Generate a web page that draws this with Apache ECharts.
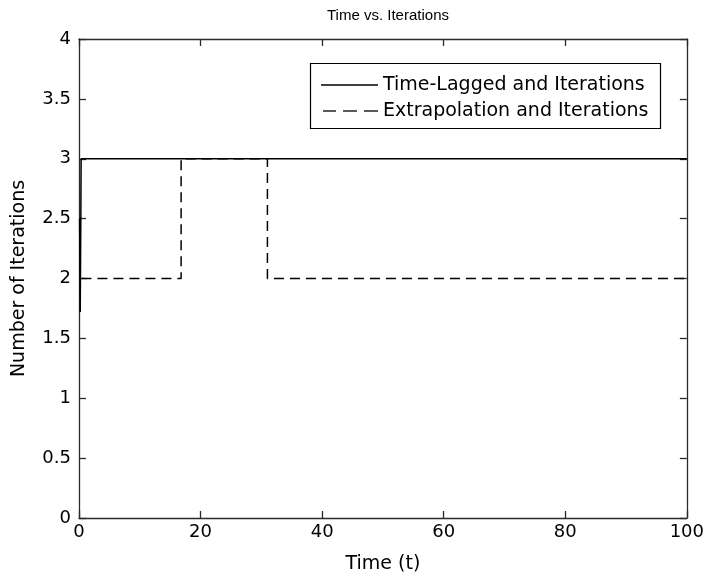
<!DOCTYPE html>
<html>
<head>
<meta charset="utf-8">
<script src="https://cdn.jsdelivr.net/npm/echarts@6/dist/echarts.min.js"></script>
<style>
html,body{margin:0;padding:0;background:#fff;}
#chart{width:707px;height:579px;}
</style>
</head>
<body>
<div id="chart"></div>
<script>
var chartTitle = 'Time vs. Iterations';
var xAxisName = 'Time (t)';
var yAxisName = 'Number of Iterations';
var seriesNames = ['Time-Lagged and Iterations', 'Extrapolation and Iterations'];

var timeLaggedT = [0.1, 0.2, 0.3, 0.35, 100];
var timeLaggedIter = [2.5, 1.72, 2.5, 3, 3];

var extrapT = [0.4, 16.8, 16.8, 31, 31, 100];
var extrapIter = [2, 2, 3, 3, 2, 2];

function pairs(xs, ys) { return xs.map(function (x, i) { return [x, ys[i]]; }); }

var FONT = 'DejaVu Sans';
var AX = '#2a2a2a';

var chart = echarts.init(document.getElementById('chart'));
var axisCommon = {
  type: 'value',
  axisLine: { show: true, onZero: false, lineStyle: { color: AX, width: 1.3 } },
  axisTick: { show: true, inside: true, length: 7, lineStyle: { color: AX, width: 1.3 } },
  splitLine: { show: false }
};
chart.setOption({
  animation: false,
  backgroundColor: '#fff',
  title: {
    text: chartTitle, left: 383, top: 3, textAlign: 'center',
    textStyle: { fontFamily: 'Liberation Sans', fontSize: 15, fontWeight: 'normal', color: '#000' }
  },
  grid: { left: 79, right: 20, top: 39, bottom: 60, containLabel: false },
  xAxis: [
    Object.assign({}, axisCommon, {
      position: 'bottom', min: 0, max: 100, interval: 20,
      name: xAxisName, nameLocation: 'middle', nameGap: 37,
      nameTextStyle: { fontFamily: FONT, fontSize: 19, color: '#000' },
      axisLabel: { fontFamily: FONT, fontSize: 18, color: '#000', margin: 5 }
    }),
    Object.assign({}, axisCommon, {
      position: 'top', min: 0, max: 100, interval: 20,
      axisLabel: { show: false }
    })
  ],
  yAxis: [
    Object.assign({}, axisCommon, {
      position: 'left', min: 0, max: 4, interval: 0.5,
      name: yAxisName, nameLocation: 'middle', nameGap: 50, nameRotate: 90,
      nameTextStyle: { fontFamily: FONT, fontSize: 19, color: '#000' },
      axisLabel: { fontFamily: FONT, fontSize: 18, color: '#000', margin: 8 }
    }),
    Object.assign({}, axisCommon, {
      position: 'right', min: 0, max: 4, interval: 0.5,
      axisLabel: { show: false }
    })
  ],
  series: [
    {
      name: seriesNames[0], type: 'line', xAxisIndex: 0, yAxisIndex: 0,
      data: pairs(timeLaggedT, timeLaggedIter), showSymbol: false, symbol: 'none',
      lineStyle: { color: '#000', width: 1.5, type: 'solid' }, z: 3
    },
    {
      name: seriesNames[1], type: 'line', xAxisIndex: 0, yAxisIndex: 0,
      data: pairs(extrapT, extrapIter), showSymbol: false, symbol: 'none',
      lineStyle: { color: '#000', width: 1.5, type: [10, 6] }, z: 4
    }
  ],
  graphic: [
    { type: 'rect', shape: { x: 310.5, y: 63.5, width: 350, height: 65 },
      style: { fill: '#fff', stroke: '#000', lineWidth: 1.2 }, z: 100 },
    { type: 'line', shape: { x1: 321, y1: 85, x2: 378, y2: 85 },
      style: { stroke: '#000', lineWidth: 1.3 }, z: 101 },
    { type: 'line', shape: { x1: 323, y1: 111, x2: 336, y2: 111 },
      style: { stroke: '#000', lineWidth: 1.3 }, z: 101 },
    { type: 'line', shape: { x1: 343, y1: 111, x2: 357, y2: 111 },
      style: { stroke: '#000', lineWidth: 1.3 }, z: 101 },
    { type: 'line', shape: { x1: 364, y1: 111, x2: 378, y2: 111 },
      style: { stroke: '#000', lineWidth: 1.3 }, z: 101 },
    { type: 'text', x: 383, y: 85, z: 101,
      style: { text: seriesNames[0], font: '19px "DejaVu Sans"', fill: '#000', verticalAlign: 'middle', textVerticalAlign: 'middle' } },
    { type: 'text', x: 383, y: 111, z: 101,
      style: { text: seriesNames[1], font: '19px "DejaVu Sans"', fill: '#000', verticalAlign: 'middle', textVerticalAlign: 'middle' } }
  ]
});
</script>
</body>
</html>
